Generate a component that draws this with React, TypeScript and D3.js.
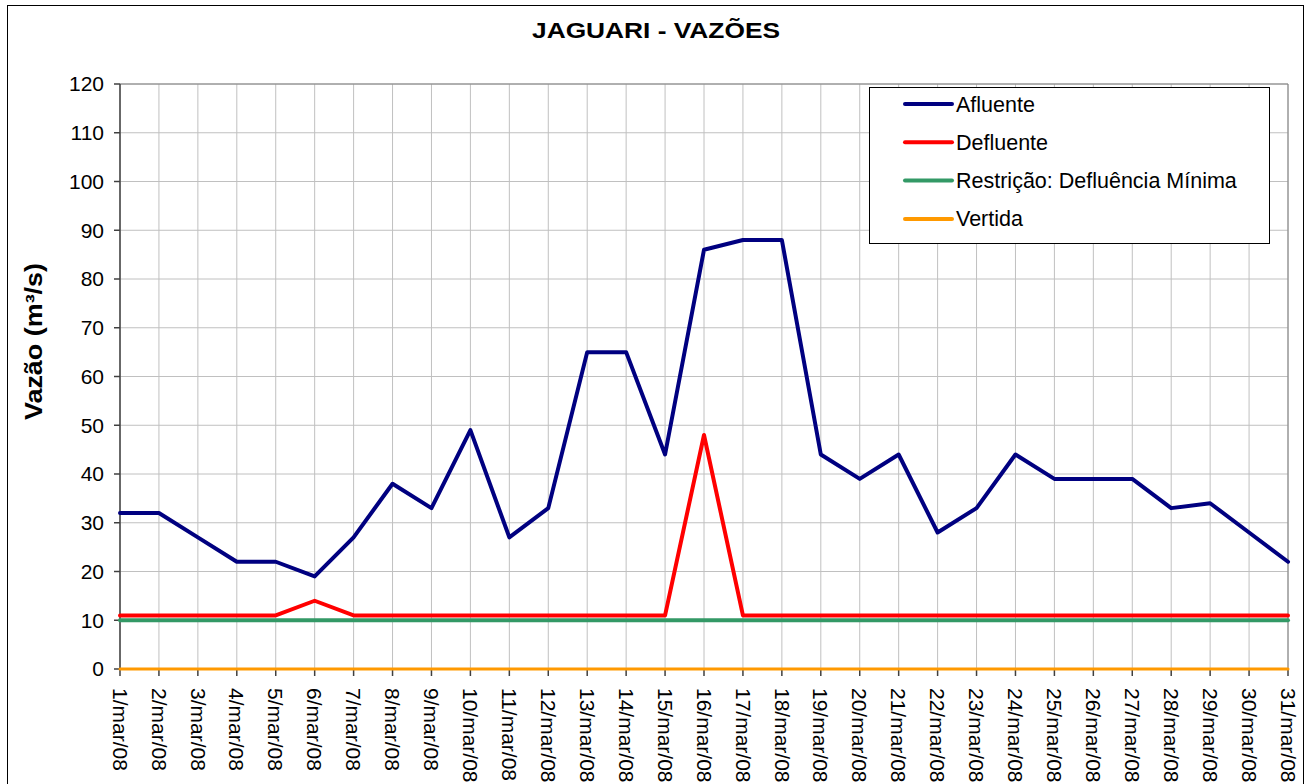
import React from 'react';
import * as d3 from 'd3';

const days = d3.range(1, 32).map(d => `${d}/mar/08`);
const afluente = [32, 32, 27, 22, 22, 19, 27, 38, 33, 49, 27, 33, 65, 65, 44, 86, 88, 88, 44, 39, 44, 28, 33, 44, 39, 39, 39, 33, 34, 28, 22];
const defluente = [11, 11, 11, 11, 11, 14, 11, 11, 11, 11, 11, 11, 11, 11, 11, 48, 11, 11, 11, 11, 11, 11, 11, 11, 11, 11, 11, 11, 11, 11, 11];
const restricao = [10, 10, 10, 10, 10, 10, 10, 10, 10, 10, 10, 10, 10, 10, 10, 10, 10, 10, 10, 10, 10, 10, 10, 10, 10, 10, 10, 10, 10, 10, 10];
const vertida = [0, 0, 0, 0, 0, 0, 0, 0, 0, 0, 0, 0, 0, 0, 0, 0, 0, 0, 0, 0, 0, 0, 0, 0, 0, 0, 0, 0, 0, 0, 0];
const yTicks = [0, 10, 20, 30, 40, 50, 60, 70, 80, 90, 100, 110, 120];

const series = [
  { name: 'Afluente', values: afluente, color: '#000080', w: 4 },
  { name: 'Defluente', values: defluente, color: '#FF0000', w: 4 },
  { name: 'Restrição: Defluência Mínima', values: restricao, color: '#339966', w: 4 },
  { name: 'Vertida', values: vertida, color: '#FF9900', w: 3 },
];

const App = () => {
  const width = 1311;
  const height = 784;
  const margin = { top: 84, right: 23, bottom: 115, left: 120 };
  const font = 'Liberation Sans, Arial, sans-serif';

  const xScale = d3
    .scalePoint<string>()
    .domain(days)
    .range([margin.left, width - margin.right]);
  const yScale = d3
    .scaleLinear()
    .domain([0, 120])
    .range([height - margin.bottom, margin.top]);

  const line = d3
    .line<number>()
    .x((d, i) => xScale(days[i]) as number)
    .y(d => yScale(d));

  const x0 = margin.left;
  const x1 = width - margin.right;
  const y0 = yScale(0);
  const yTop = yScale(120);

  const legend = { x: 869, y: 87, w: 400, h: 156, row: 38.3 };

  return (
    <svg
      width={width}
      height={height}
      style={{ position: 'absolute', left: 0, top: 0, background: '#fff' }}
      fontFamily={font}
    >
      <rect x={7.5} y={5.5} width={1296} height={800} fill='#fff' stroke='#000' strokeWidth='1' />
      <text
        x={532}
        y={38}
        fontSize='22'
        fontWeight='bold'
        textLength='248'
        lengthAdjust='spacingAndGlyphs'
      >
        JAGUARI - VAZÕES
      </text>
      <text
        transform={`translate(42, 420) rotate(-90)`}
        fontSize='23'
        fontWeight='bold'
        textLength='157'
        lengthAdjust='spacingAndGlyphs'
      >
        Vazão (m³/s)
      </text>

      {/* grid */}
      {yTicks.map(t => (
        <line key={`gy-${t}`} x1={x0} x2={x1} y1={yScale(t)} y2={yScale(t)} stroke='#c0c0c0' strokeWidth='1' />
      ))}
      {days.map(d => (
        <line key={`gx-${d}`} x1={xScale(d)} x2={xScale(d)} y1={yTop} y2={y0} stroke='#c0c0c0' strokeWidth='1' />
      ))}
      <line x1={x0} x2={x1} y1={yTop} y2={yTop} stroke='#808080' strokeWidth='1' />
      <line x1={x1} x2={x1} y1={yTop} y2={y0} stroke='#808080' strokeWidth='1' />

      {/* axes */}
      <line x1={x0} x2={x0} y1={yTop} y2={y0} stroke='#404040' strokeWidth='1.5' />
      <line x1={x0} x2={x1} y1={y0} y2={y0} stroke='#404040' strokeWidth='1.5' />
      {yTicks.map(t => (
        <g key={`yt-${t}`}>
          <line x1={x0 - 6} x2={x0} y1={yScale(t)} y2={yScale(t)} stroke='#404040' strokeWidth='1.5' />
          <text x={x0 - 16} y={yScale(t)} dy='0.35em' textAnchor='end' fontSize='21'>
            {t}
          </text>
        </g>
      ))}
      {days.map(d => (
        <g key={`xt-${d}`}>
          <line x1={xScale(d)} x2={xScale(d)} y1={y0} y2={y0 + 7} stroke='#404040' strokeWidth='1.5' />
          <text
            transform={`translate(${xScale(d)}, ${y0 + 19}) rotate(90)`}
            dy='0.35em'
            textAnchor='start'
            fontSize='21'
          >
            {d}
          </text>
        </g>
      ))}

      {/* series */}
      {series
        .slice()
        .reverse()
        .map(s => (
          <path
            key={s.name}
            d={line(s.values) as string}
            fill='none'
            stroke={s.color}
            strokeWidth={s.w}
            strokeLinejoin='round'
            strokeLinecap='round'
          />
        ))}

      {/* legend */}
      <rect x={legend.x + 0.5} y={legend.y + 0.5} width={legend.w} height={legend.h} fill='#fff' stroke='#000' strokeWidth='1' />
      {series.map((s, i) => {
        const ly = legend.y + 17 + i * legend.row;
        return (
          <g key={`lg-${s.name}`}>
            <line x1={905} x2={952} y1={ly} y2={ly} stroke={s.color} strokeWidth='4' strokeLinecap='round' />
            <text x={956} y={ly} dy='0.35em' fontSize='21.5'>
              {s.name}
            </text>
          </g>
        );
      })}
    </svg>
  );
};

export default App;
